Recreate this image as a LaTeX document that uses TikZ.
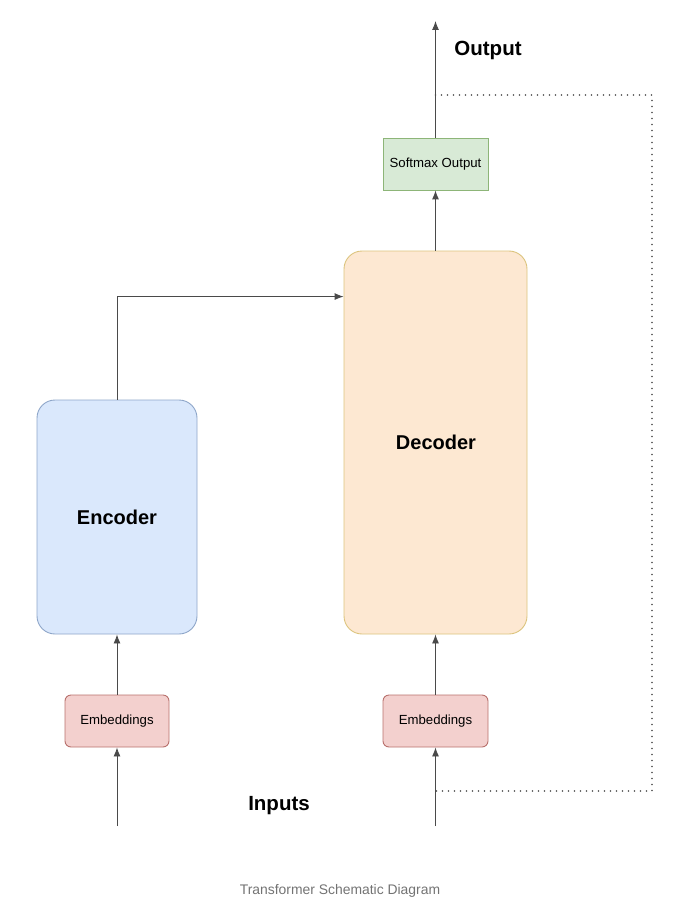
\documentclass[tikz,border=0pt]{standalone}
\usepackage{fontspec}
\setmainfont{Liberation Sans}
\usetikzlibrary{arrows.meta, positioning}
\definecolor{encfill}{HTML}{DAE8FC}
\definecolor{encline}{HTML}{8EA6C9}
\definecolor{decfill}{HTML}{FDE8D2}
\definecolor{decline}{HTML}{DCC47E}
\definecolor{embfill}{HTML}{F3D0CE}
\definecolor{embline}{HTML}{B8706C}
\definecolor{smfill}{HTML}{D8EAD6}
\definecolor{smline}{HTML}{8DB578}
\definecolor{wire}{HTML}{4A4A4A}
\tikzset{x = 1pt, y = -1pt,
         >= {Latex[length = 9pt, width = 7pt]},
         block/.style = {draw, line width = 0.9pt, inner sep = 0pt,
                         align = center},
         bigblock/.style = {block, rounded corners = 18pt,
                            font = \bfseries\fontsize{20}{24}\selectfont},
         smallblock/.style = {block, minimum width = 105pt,
                              minimum height = 52pt,
                              font = \fontsize{13.2}{16}\selectfont},
         wire/.style = {draw = wire, line width = 0.9pt, ->},
         feedback/.style = {draw = wire, line width = 1.6pt,
                            line cap = round,
                            dash pattern = on 0pt off 6pt},
         label/.style = {font = \bfseries\fontsize{20.5}{24}\selectfont}}

\begin{document}
\begin{tikzpicture}
        \useasboundingbox (0,0) rectangle (680,901);

        % blocks
        \node[bigblock, fill = encfill, draw = encline,
              minimum width = 160pt, minimum height = 234pt] (enc) at (117,517)   {Encoder};
        \node[bigblock, fill = decfill, draw = decline,
              minimum width = 183pt, minimum height = 383pt] (dec) at (435.5,442.5) {};
        \node[font = \bfseries\fontsize{20}{24}\selectfont] (declbl) at (436,442) {Decoder};
        \node[smallblock, fill = smfill, draw = smline] (soft) at (435.5,164) {Softmax Output};
        \node[smallblock, fill = embfill, draw = embline, rounded corners = 6pt,
              minimum width = 104pt] (embL) at (117,721)   {Embeddings};
        \node[smallblock, fill = embfill, draw = embline, rounded corners = 6pt] (embR) at (435.5,721) {Embeddings};

        % free ends
        \coordinate (inL)  at (117,826);
        \coordinate (inR)  at (435.5,826);
        \coordinate (out)  at (435.5,21);
        \coordinate (fbA)  at (435.5,95);
        \coordinate (fbB)  at (435.5,791);

        % connectors
        \draw[wire] (inL)  -- (embL.south);
        \draw[wire] (embL) -- (enc.south);
        \draw[wire] (inR)  -- (embR.south);
        \draw[wire] (embR) -- (dec.south);
        \draw[wire] (dec)  -- (soft.south);
        \draw[wire] (soft) -- (out);
        \draw[wire] (enc.north) |- ([yshift = -46pt]dec.north west);
        \draw[feedback] (fbA) -- (652,95) -- (652,791) -- (fbB);

        % texts
        \node[label] (outlbl) at (488,50)  {Output};
        \node[label] (inlbl)  at (279,806) {Inputs};
        \node[text = black!55, font = \fontsize{13.9}{16}\selectfont] (caption) at (340,891)
             {Transformer Schematic Diagram};
\end{tikzpicture}
\end{document}
